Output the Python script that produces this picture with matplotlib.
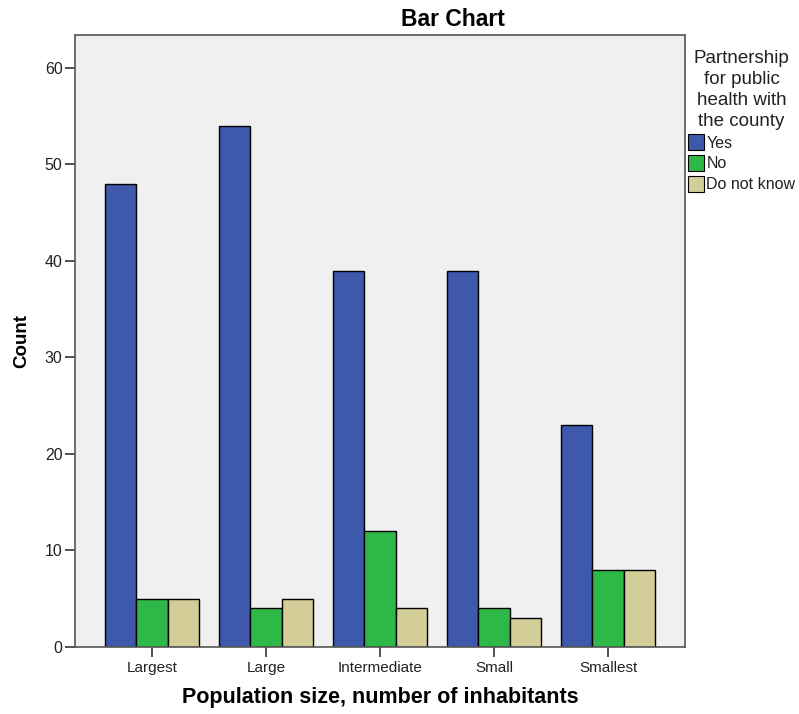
import matplotlib
matplotlib.use("Agg")
import matplotlib.pyplot as plt
import numpy as np
from matplotlib.patches import Patch

plt.rcParams['font.family'] = ['Liberation Sans', 'DejaVu Sans']

categories = ["Largest", "Large", "Intermediate", "Small", "Smallest"]
series_names = ["Yes", "No", "Do not know"]
yes_vals = [48, 54, 39, 39, 23]
no_vals = [5, 4, 12, 4, 8]
dk_vals = [5, 5, 4, 3, 8]
colors = ["#3e58ac", "#2eb848", "#d3ce97"]

fig = plt.figure(figsize=(7.99, 7.14), dpi=100)
ax = fig.add_axes([75/799, 67/714, 610/799, 612/714])
ax.set_facecolor("#f0f0f0")

x = np.arange(len(categories))
w = 0.275
for i, (vals, c) in enumerate(zip([yes_vals, no_vals, dk_vals], colors)):
    ax.bar(x + (i - 1) * w, vals, width=w, color=c, edgecolor="black", linewidth=1.0, zorder=2)

ax.set_xlim(-0.675, 4.675)
ax.set_ylim(0, 63.4)
ax.set_yticks([0, 10, 20, 30, 40, 50, 60])
ax.set_xticks(x)
ax.set_xticklabels(categories, fontsize=11, color="#222222")
ax.tick_params(axis='y', labelsize=11.5, labelcolor="#222222", length=7, width=1.2, color="#333333", pad=2)
ax.tick_params(axis='x', length=7, width=1.2, color="#333333", pad=3)
for s in ax.spines.values():
    s.set_color("#555555")
    s.set_linewidth(1.2)

ax.set_ylabel("Count", fontsize=13.5, fontweight="bold", labelpad=10)
ax.set_xlabel("Population size, number of inhabitants", fontsize=15.5, fontweight="bold", labelpad=9)
fig.text(453/799, 1 - 19/714, "Bar Chart", fontsize=16.5, fontweight="bold", ha="center", va="center")

handles = [Patch(facecolor=c, edgecolor="black", linewidth=0.8) for c in colors]
leg = fig.legend(handles, series_names, loc="upper left", bbox_to_anchor=(688/799, 1 - 50/714),
                 title="Partnership\nfor public\nhealth with\nthe county", frameon=False,
                 fontsize=11.5, title_fontsize=13.5, handlelength=1.0, handleheight=1.1,
                 handletextpad=0.15, labelspacing=0.3, borderaxespad=0, borderpad=0)
t = leg.get_title()
t.set_multialignment('center')
t.set_linespacing(1.3)
t.set_color("#222222")
for txt in leg.get_texts():
    txt.set_color("#222222")

fig.savefig("out.png", dpi=100)
